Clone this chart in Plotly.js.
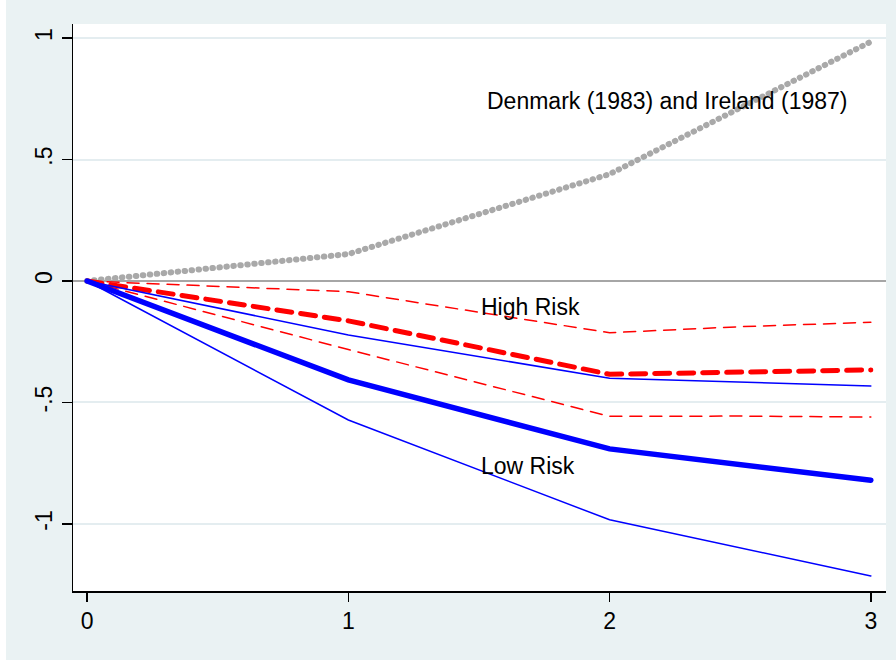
<!DOCTYPE html>
<html>
<head>
<meta charset="utf-8">
<script src="https://cdn.plot.ly/plotly-3.0.1.min.js"></script>
<style>
	html, body { margin: 0; padding: 0; background: #fff; }
	#plot { position: absolute; left: 6px; top: 0; width: 890px; height: 660px; }
	/* Stata draws dots and thick dashes with round ends */
	.scatterlayer .js-line { stroke-linecap: round; }
</style>
</head>
<body>
<div id="plot"></div>
<script>
const years = [0, 1, 2, 3];
const yearsFine = [0, 1, 2, 2.5, 3];

const denmarkIreland = [0, 0.111, 0.44, 0.985];

const highRisk = [0, -0.164, -0.384, -0.374, -0.366];
const highRiskUpper = [0, -0.044, -0.213, -0.188, -0.17];
const highRiskLower = [0, -0.282, -0.557, -0.556, -0.56];

const lowRisk = [0, -0.407, -0.691, -0.82];
const lowRiskUpper = [0, -0.222, -0.4, -0.432];
const lowRiskLower = [0, -0.572, -0.983, -1.214];

const yTicks = [-1, -0.5, 0, 0.5, 1];
const yTickText = ["-1", "-.5", "0", ".5", "1"];
const xTicks = [0, 1, 2, 3];

const labels = [
	{ text: "Denmark (1983) and Ireland (1987)", x: 2.223, y: 0.741 },
	{ text: "High Risk", x: 1.696, y: -0.107 },
	{ text: "Low Risk", x: 1.688, y: -0.761 },
];

const FONT = "'Liberation Sans', Arial, sans-serif";
const BG = "#eaf2f3";

const lineTrace = (x, y, color, width, dash) => ({
	type: "scatter",
	mode: "lines",
	x,
	y,
	line: { color, width, dash },
	hoverinfo: "skip",
});

const data = [
	lineTrace(years, denmarkIreland, "#a9a9a9", 6, "0.5px,6.5px"),
	lineTrace(yearsFine, highRiskUpper, "#ff0000", 1.5, "12px,8px"),
	lineTrace(yearsFine, highRiskLower, "#ff0000", 1.5, "12px,8px"),
	lineTrace(yearsFine, highRisk, "#ff0000", 5, "15px,9px"),
	lineTrace(years, lowRiskUpper, "#0000ff", 1.5, "solid"),
	lineTrace(years, lowRiskLower, "#0000ff", 1.5, "solid"),
	lineTrace(years, lowRisk, "#0000ff", 5.5, "solid"),
];

const layout = {
	width: 890,
	height: 660,
	showlegend: false,
	hovermode: false,
	paper_bgcolor: BG,
	plot_bgcolor: "#fff",
	margin: { l: 67, r: 10, t: 24, b: 69 },
	font: { family: FONT, size: 23, color: "#000" },
	xaxis: {
		range: [-0.054, 3.058],
		tickvals: xTicks,
		ticks: "outside",
		ticklen: 9,
		tickwidth: 1.5,
		tickcolor: "#000",
		showgrid: false,
		zeroline: false,
		showline: true,
		linecolor: "#000",
		linewidth: 1.5,
		tickfont: { family: FONT, size: 23 },
	},
	yaxis: {
		range: [-1.276, 1.058],
		tickvals: yTicks,
		ticktext: yTickText,
		tickangle: -90,
		ticks: "outside",
		ticklen: 10,
		tickwidth: 1.5,
		tickcolor: "#000",
		showgrid: true,
		gridcolor: "#e4edf0",
		gridwidth: 2,
		zeroline: true,
		zerolinecolor: "#a6a6a6",
		zerolinewidth: 1.5,
		showline: true,
		linecolor: "#000",
		linewidth: 1.5,
		tickfont: { family: FONT, size: 23 },
	},
	annotations: labels.map(l => ({
		text: l.text,
		x: l.x,
		y: l.y,
		xref: "x",
		yref: "y",
		showarrow: false,
		font: { family: FONT, size: 23, color: "#000" },
	})),
};

Plotly.newPlot("plot", data, layout, { displayModeBar: false, staticPlot: true });
</script>
</body>
</html>
